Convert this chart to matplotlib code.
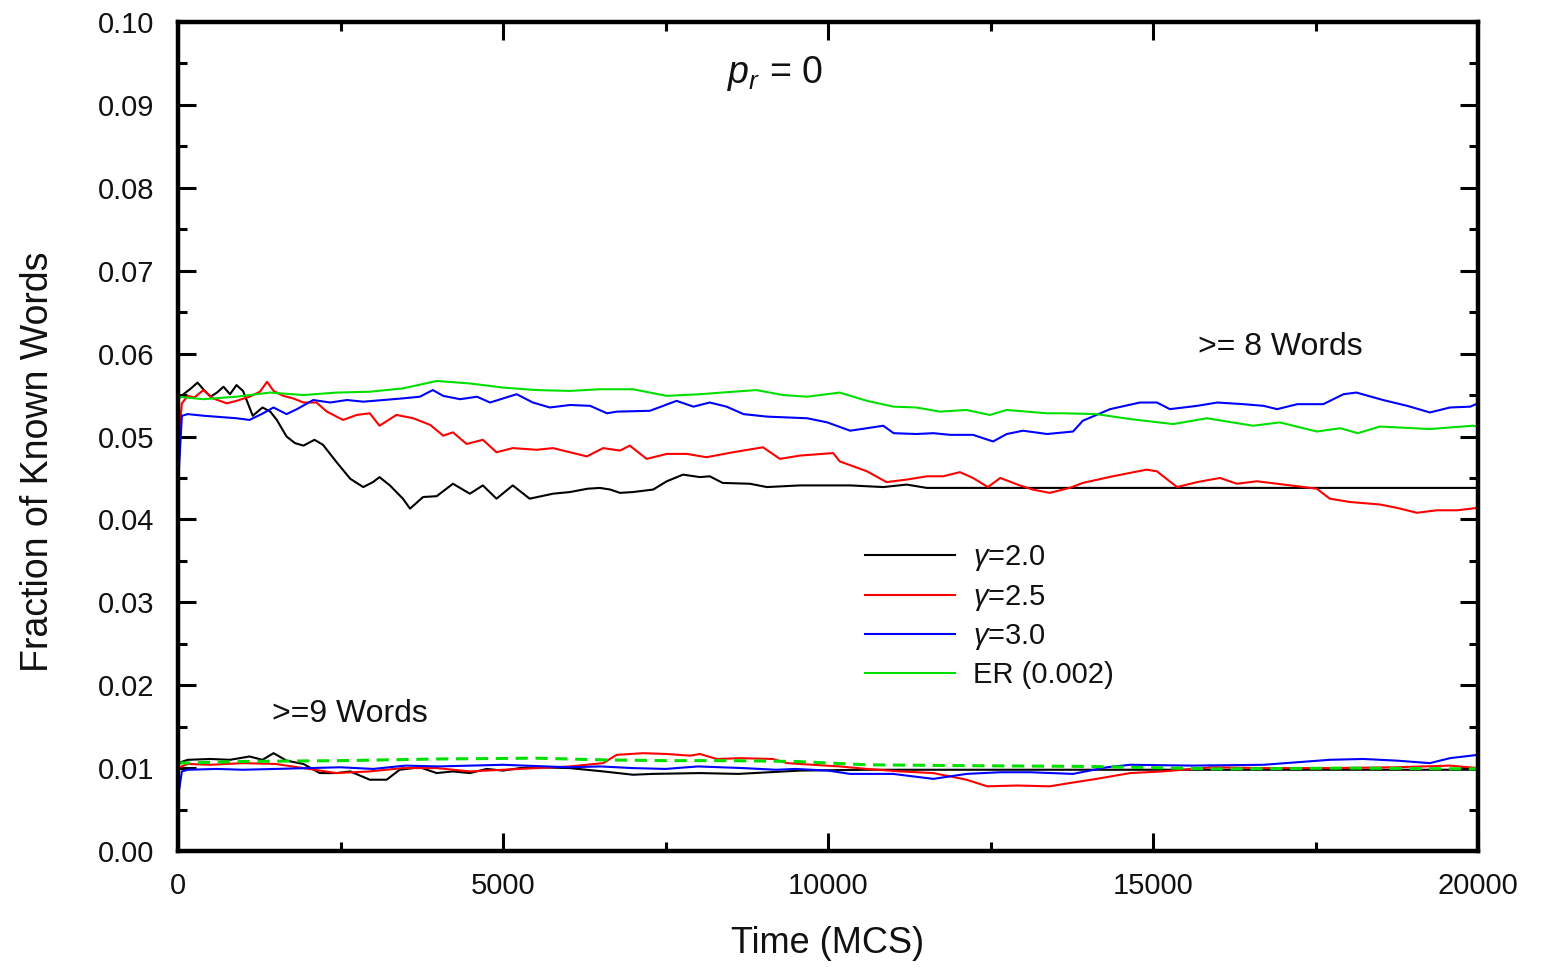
import matplotlib
matplotlib.use("Agg")
import matplotlib.pyplot as plt
from matplotlib.ticker import MultipleLocator, FormatStrFormatter

plt.rcParams['font.family'] = ['Liberation Sans', 'DejaVu Sans']
plt.rcParams['mathtext.fontset'] = 'custom'
plt.rcParams['mathtext.it'] = 'Liberation Sans:italic'
plt.rcParams['mathtext.rm'] = 'Liberation Sans'

# ---------------- data: >= 8 words ----------------
t_g20_8 = [0, 100, 200, 300, 400, 500, 600, 700, 800, 900, 1000, 1150, 1300, 1420, 1520, 1670, 1800,
           1930, 2100, 2230, 2440, 2650, 2850, 3000, 3100, 3260, 3460, 3570, 3770, 3980, 4230, 4490,
           4690, 4900, 5150, 5410, 5770, 6030, 6300, 6490, 6650, 6800, 7000, 7310, 7520, 7770, 8030,
           8180, 8380, 8800, 9060, 9570, 10340, 10850, 11210, 11520, 20000]
v_g20_8 = [0.0545, 0.0552, 0.0558, 0.0565, 0.0556, 0.0548, 0.0553, 0.0560, 0.0551, 0.0562, 0.0555,
           0.0525, 0.0535, 0.0530, 0.0520, 0.0500, 0.0492, 0.0489, 0.0496, 0.0490, 0.0469, 0.0449,
           0.0439, 0.0445, 0.0451, 0.0441, 0.0425, 0.0413, 0.0427, 0.0428, 0.0443, 0.0431, 0.0441,
           0.0425, 0.0441, 0.0425, 0.0431, 0.0433, 0.0437, 0.0438, 0.0436, 0.0432, 0.0433, 0.0436,
           0.0446, 0.0454, 0.0451, 0.0452, 0.0444, 0.0443, 0.0439, 0.0441, 0.0441, 0.0439, 0.0442,
           0.0438, 0.0438]

t_g25_8 = [0, 60, 150, 250, 390, 540, 750, 900, 1100, 1260, 1370, 1470, 1620, 1770, 1930, 2130, 2290,
           2540, 2750, 2950, 3100, 3360, 3620, 3880, 4080, 4230, 4440, 4690, 4900, 5150, 5520, 5770,
           6030, 6290, 6540, 6800, 6950, 7210, 7520, 7830, 8130, 8540, 9000, 9260, 9570, 10080,
           10180, 10390, 10600, 10900, 11210, 11520, 11770, 12030, 12230, 12460, 12650, 12950, 13150,
           13410, 13720, 13920, 14380, 14900, 15060, 15370, 15680, 16030, 16290, 16600, 16910, 17220,
           17520, 17720, 18030, 18490, 18750, 19060, 19370, 19680, 20000]
v_g25_8 = [0.0490, 0.0540, 0.0549, 0.0547, 0.0556, 0.0546, 0.0540, 0.0543, 0.0548, 0.0554, 0.0566,
           0.0555, 0.0549, 0.0546, 0.0541, 0.0541, 0.0530, 0.0520, 0.0526, 0.0528, 0.0513, 0.0526,
           0.0522, 0.0514, 0.0501, 0.0505, 0.0491, 0.0496, 0.0481, 0.0486, 0.0484, 0.0486, 0.0481,
           0.0476, 0.0486, 0.0483, 0.0489, 0.0473, 0.0479, 0.0479, 0.0475, 0.0481, 0.0487, 0.0473,
           0.0477, 0.0480, 0.0470, 0.0464, 0.0458, 0.0445, 0.0448, 0.0452, 0.0452, 0.0457, 0.0450,
           0.0439, 0.0450, 0.0441, 0.0436, 0.0432, 0.0438, 0.0444, 0.0452, 0.0460, 0.0458, 0.0439,
           0.0445, 0.0450, 0.0443, 0.0446, 0.0443, 0.0440, 0.0437, 0.0425, 0.0421, 0.0418, 0.0414,
           0.0408, 0.0411, 0.0411, 0.0414]

t_g30_8 = [0, 60, 150, 400, 900, 1100, 1310, 1470, 1670, 1830, 2080, 2340, 2600, 2850, 3160, 3460,
           3720, 3920, 4080, 4340, 4600, 4800, 5210, 5460, 5720, 6030, 6340, 6600, 6750, 7260, 7670,
           7930, 8180, 8440, 8700, 9060, 9370, 9680, 9990, 10340, 10600, 10850, 11010, 11360, 11620,
           11880, 12230, 12540, 12750, 13000, 13370, 13770, 13920, 14340, 14800, 15060, 15260, 15680,
           15990, 16390, 16700, 16910, 17220, 17620, 17930, 18130, 18540, 18910, 19260, 19570, 19880,
           20000]
v_g30_8 = [0.0440, 0.0525, 0.0527, 0.0525, 0.0522, 0.0520, 0.0528, 0.0535, 0.0527, 0.0533, 0.0544,
           0.0541, 0.0544, 0.0542, 0.0544, 0.0546, 0.0548, 0.0556, 0.0549, 0.0545, 0.0548, 0.0541,
           0.0551, 0.0541, 0.0535, 0.0538, 0.0537, 0.0528, 0.0530, 0.0531, 0.0543, 0.0536, 0.0541,
           0.0536, 0.0527, 0.0524, 0.0523, 0.0522, 0.0517, 0.0507, 0.0510, 0.0513, 0.0504, 0.0503,
           0.0504, 0.0502, 0.0502, 0.0494, 0.0503, 0.0507, 0.0503, 0.0506, 0.0519, 0.0533, 0.0541,
           0.0541, 0.0533, 0.0537, 0.0541, 0.0539, 0.0537, 0.0533, 0.0539, 0.0539, 0.0551, 0.0553,
           0.0544, 0.0537, 0.0529, 0.0535, 0.0536, 0.0540]

t_er_8 = [0, 390, 900, 1415, 1930, 2440, 2950, 3460, 3980, 4490, 5000, 5520, 6030, 6490, 7000, 7520,
          8030, 8540, 8900, 9310, 9680, 10180, 10600, 11010, 11360, 11720, 12130, 12490, 12750, 13370,
          13620, 14130, 14650, 15310, 15830, 16540, 16950, 17520, 17880, 18150, 18490, 19260, 19920,
          20000]
v_er_8 = [0.0548, 0.0545, 0.0548, 0.0553, 0.0550, 0.0553, 0.0554, 0.0558, 0.0567, 0.0564, 0.0559,
          0.0556, 0.0555, 0.0557, 0.0557, 0.0549, 0.0551, 0.0554, 0.0556, 0.0550, 0.0548, 0.0553,
          0.0543, 0.0536, 0.0535, 0.0530, 0.0532, 0.0526, 0.0532, 0.0528, 0.0528, 0.0527, 0.0521,
          0.0515, 0.0522, 0.0513, 0.0517, 0.0506, 0.0510, 0.0504, 0.0512, 0.0509, 0.0513, 0.0512]

# ---------------- data: >= 9 words ----------------
t_g20_9 = [0, 150, 500, 800, 1100, 1300, 1470, 1670, 1930, 2180, 2440, 2650, 2950, 3210, 3410, 3720,
           3980, 4230, 4490, 4750, 5000, 5260, 5520, 6030, 6540, 7000, 7300, 8030, 8620, 9570, 10600,
           20000]
v_g20_9 = [0.0106, 0.0110, 0.0111, 0.0110, 0.0114, 0.0110, 0.0118, 0.0109, 0.0105, 0.0094, 0.0094,
           0.0096, 0.0086, 0.0086, 0.0098, 0.0101, 0.0094, 0.0096, 0.0094, 0.0099, 0.0097, 0.0100,
           0.0101, 0.0100, 0.0096, 0.0092, 0.0093, 0.0094, 0.0093, 0.0097, 0.0098, 0.0098]

t_g25_9 = [0, 150, 500, 1000, 1500, 1930, 2440, 2950, 3460, 3980, 4490, 5000, 5520, 6030, 6540,
           6750, 7160, 7520, 7880, 8030, 8290, 8650, 9150, 9370, 9770, 10180, 10600, 11110, 11620,
           12130, 12450, 12910, 13410, 13720, 14130, 14650, 15150, 15920, 16700, 17720, 18750, 19570,
           20000]
v_g25_9 = [0.0100, 0.0105, 0.0104, 0.0106, 0.0105, 0.0100, 0.0094, 0.0096, 0.0100, 0.0100, 0.0096,
           0.0098, 0.0100, 0.0102, 0.0106, 0.0116, 0.0118, 0.0117, 0.0115, 0.0117, 0.0111, 0.0112,
           0.0111, 0.0106, 0.0104, 0.0102, 0.0099, 0.0096, 0.0094, 0.0086, 0.0078, 0.0079, 0.0078,
           0.0082, 0.0087, 0.0094, 0.0096, 0.0101, 0.0100, 0.0100, 0.0101, 0.0103, 0.0100]

t_g30_9 = [0, 60, 150, 600, 1000, 1500, 2000, 2500, 3000, 3500, 4000, 5000, 6000, 6500, 7000, 7500,
           8000, 8700, 9200, 9500, 10000, 10340, 11000, 11620, 12130, 12650, 13110, 13770, 14290,
           14650, 15600, 16700, 17720, 18230, 18750, 19260, 19570, 20000]
v_g30_9 = [0.0065, 0.0096, 0.0098, 0.0099, 0.0098, 0.0099, 0.0100, 0.0101, 0.0099, 0.0103, 0.0102,
           0.0104, 0.0101, 0.0102, 0.0100, 0.0099, 0.0102, 0.0100, 0.0098, 0.0099, 0.0097, 0.0093,
           0.0093, 0.0087, 0.0093, 0.0095, 0.0095, 0.0093, 0.0101, 0.0104, 0.0103, 0.0104, 0.0110,
           0.0111, 0.0109, 0.0106, 0.0112, 0.0116]

t_er_9 = [0, 1000, 2500, 4000, 5500, 6500, 7500, 8500, 9500, 10600, 12000, 14000, 16000, 18000, 20000]
v_er_9 = [0.0106, 0.0108, 0.0109, 0.0111, 0.0112, 0.0110, 0.0109, 0.0109, 0.0108, 0.0104, 0.0103,
          0.0102, 0.0099, 0.0100, 0.0099]

labels = [r'$\gamma$=2.0', r'$\gamma$=2.5', r'$\gamma$=3.0', 'ER (0.002)']
colors = ['black', '#ff0000', '#0000ff', '#00e000']

fig = plt.figure(figsize=(15.45, 9.67), dpi=100)
ax = fig.add_axes([178/1545, (967-851)/967, 1300/1545, 829/967])

lw = 1.5
ax.plot(t_g20_8, v_g20_8, color=colors[0], lw=lw, label=labels[0])
ax.plot(t_g25_8, v_g25_8, color=colors[1], lw=lw, label=labels[1])
ax.plot(t_g30_8, v_g30_8, color=colors[2], lw=lw, label=labels[2])
ax.plot(t_er_8, v_er_8, color=colors[3], lw=lw, label=labels[3])

ax.plot(t_g20_9, v_g20_9, color=colors[0], lw=lw)
ax.plot(t_g25_9, v_g25_9, color=colors[1], lw=lw)
ax.plot(t_g30_9, v_g30_9, color=colors[2], lw=lw)
ax.plot(t_er_9, v_er_9, color=colors[3], lw=2.2, ls=(0, (4, 2.5)))

ax.set_xlim(0, 20000)
ax.set_ylim(0, 0.10)
ax.xaxis.set_major_locator(MultipleLocator(5000))
ax.xaxis.set_minor_locator(MultipleLocator(2500))
ax.yaxis.set_major_locator(MultipleLocator(0.01))
ax.yaxis.set_minor_locator(MultipleLocator(0.005))
ax.yaxis.set_major_formatter(FormatStrFormatter('%.2f'))

for s in ax.spines.values():
    s.set_linewidth(3.2)
ax.tick_params(which='both', direction='in', top=True, right=True, width=2.2, labelsize=21,
               colors='black')
ax.tick_params(which='major', length=13)
ax.tick_params(which='minor', length=6.5)
ax.tick_params(axis='y', pad=17)
ax.tick_params(axis='x', pad=15)
for lab in ax.get_xticklabels() + ax.get_yticklabels():
    lab.set_color('#111111')

ax.set_xlabel('Time (MCS)', fontsize=26, color='#111111')
ax.set_ylabel('Fraction of Known Words', fontsize=27, color='#111111')
ax.xaxis.set_label_coords(0.5, -0.091)
ax.yaxis.set_label_coords(-0.094, 0.469)

ax.text(8450, 0.0938, r'$p_r$ = 0', fontsize=27, ha='left', va='center', color='#111111')
ax.text(15700, 0.0608, '>= 8 Words', fontsize=23, ha='left', va='center', color='#111111')
ax.text(1450, 0.0165, '>=9 Words', fontsize=23, ha='left', va='center', color='#111111')

leg = ax.legend(loc='upper left', bbox_to_anchor=(0.5285, 0.371), frameon=False, fontsize=21,
                handlelength=3.1, handletextpad=0.6, labelspacing=0.32, borderaxespad=0,
                borderpad=0)
for txt in leg.get_texts():
    txt.set_color('#111111')

fig.savefig('out.png', dpi=100)
